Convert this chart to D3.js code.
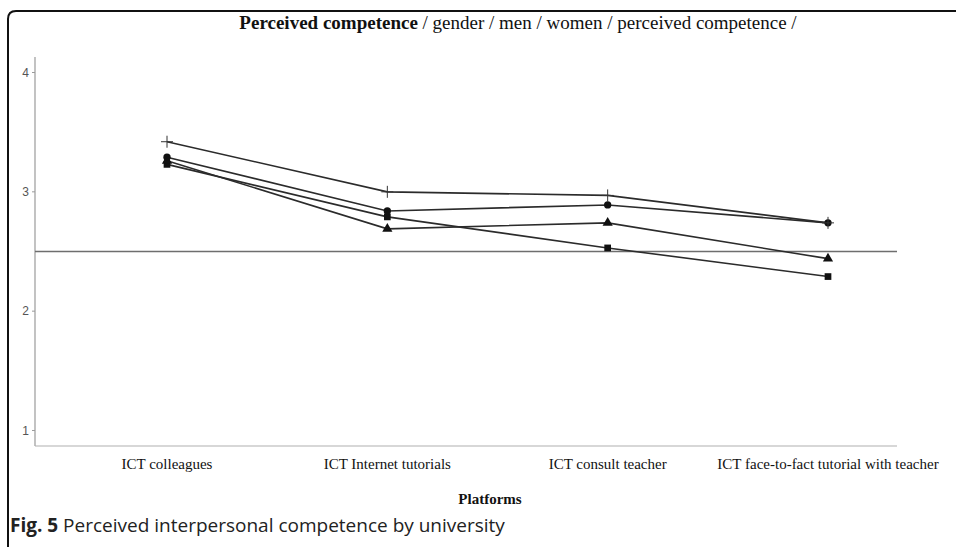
<!DOCTYPE html>
<html>
<head>
<meta charset="utf-8">
<script src="https://cdn.jsdelivr.net/npm/d3@7"></script>
<style>
  body { margin: 0; background: #fff; }
  svg { display: block; }
</style>
</head>
<body>
<svg id="chart" width="956" height="547"></svg>
<script>
// categories along x
const platforms = ["ICT colleagues", "ICT Internet tutorials", "ICT consult teacher", "ICT face-to-fact tutorial with teacher"];

// one array per series (marker shape)
const crossVals = [3.42, 3.00, 2.97, 2.74];
const circleVals = [3.29, 2.84, 2.89, 2.74];
const triangleVals = [3.26, 2.69, 2.74, 2.44];
const squareVals = [3.23, 2.79, 2.53, 2.29];

const yTicks = [1, 2, 3, 4];
const refValue = 2.5;

const series = [
  { name: "square", values: squareVals, symbol: d3.symbolSquare, size: 45 },
  { name: "triangle", values: triangleVals, symbol: d3.symbolTriangle, size: 45 },
  { name: "circle", values: circleVals, symbol: d3.symbolCircle, size: 42 },
  { name: "cross", values: crossVals, symbol: null, size: 0 }
];

const svg = d3.select("#chart");

// outer figure frame (rounded top-left corner)
svg.append("path")
  .attr("d", "M8,547 L8,19 Q8,11 16,11 L956,11")
  .attr("fill", "none")
  .attr("stroke", "#111")
  .attr("stroke-width", 2);

const x = d3.scalePoint().domain(platforms).range([167, 828]);
const y = d3.scaleLinear().domain([0.87, 4.13]).range([446, 57]);

const left = 35, right = 897;

// y axis
svg.append("line")
  .attr("x1", left).attr("x2", left)
  .attr("y1", y(4.13)).attr("y2", y(0.87))
  .attr("stroke", "#9a9a9a").attr("stroke-width", 1.2);

const yt = svg.append("g");
yt.selectAll("line").data(yTicks).join("line")
  .attr("x1", left - 3).attr("x2", left)
  .attr("y1", d => y(d)).attr("y2", d => y(d))
  .attr("stroke", "#9a9a9a");
yt.selectAll("text").data(yTicks).join("text")
  .attr("x", left - 6).attr("y", d => y(d))
  .attr("dy", "0.35em")
  .attr("text-anchor", "end")
  .attr("font-family", "Liberation Sans, Arial, sans-serif")
  .attr("font-size", 12)
  .attr("fill", "#555")
  .text(d => d);

// x axis baseline
svg.append("line")
  .attr("x1", left).attr("x2", right)
  .attr("y1", y(0.87)).attr("y2", y(0.87))
  .attr("stroke", "#b0b0b0").attr("stroke-width", 1.2);

// reference line
svg.append("line")
  .attr("x1", left).attr("x2", right)
  .attr("y1", y(refValue)).attr("y2", y(refValue))
  .attr("stroke", "#6e6e6e").attr("stroke-width", 1.3);

// series lines
const line = d3.line()
  .x((d, i) => x(platforms[i]))
  .y(d => y(d));

svg.append("g").selectAll("path").data(series).join("path")
  .attr("d", s => line(s.values))
  .attr("fill", "none")
  .attr("stroke", "#2b2b2b")
  .attr("stroke-width", 1.6);

// markers
series.forEach(s => {
  const g = svg.append("g");
  if (s.symbol) {
    g.selectAll("path").data(s.values).join("path")
      .attr("transform", (d, i) => `translate(${x(platforms[i])},${y(d)})`)
      .attr("d", d3.symbol().type(s.symbol).size(s.size))
      .attr("fill", "#111");
  } else {
    g.selectAll("path").data(s.values).join("path")
      .attr("transform", (d, i) => `translate(${x(platforms[i])},${y(d)})`)
      .attr("d", "M-6,0H6M0,-6V6")
      .attr("stroke", "#333")
      .attr("stroke-width", 1);
  }
});

// title
const title = svg.append("text")
  .attr("x", 518).attr("y", 29)
  .attr("text-anchor", "middle")
  .attr("font-family", "Liberation Serif, Times New Roman, serif")
  .attr("font-size", 19)
  .attr("fill", "#111");
title.append("tspan").attr("font-weight", "bold").text("Perceived competence");
title.append("tspan").text(" / gender / men / women / perceived competence /");

// category labels
svg.append("g").selectAll("text").data(platforms).join("text")
  .attr("x", d => x(d)).attr("y", 469)
  .attr("text-anchor", "middle")
  .attr("font-family", "Liberation Serif, Times New Roman, serif")
  .attr("font-size", 15)
  .attr("fill", "#111")
  .text(d => d);

// x axis title
svg.append("text")
  .attr("x", 490).attr("y", 504)
  .attr("text-anchor", "middle")
  .attr("font-family", "Liberation Serif, Times New Roman, serif")
  .attr("font-size", 15)
  .attr("font-weight", "bold")
  .attr("fill", "#111")
  .text("Platforms");

// caption
const cap = svg.append("text")
  .attr("x", 10).attr("y", 532)
  .attr("font-family", "Open Sans, Noto Sans, sans-serif")
  .attr("font-size", 19)
  .attr("fill", "#222");
cap.append("tspan").attr("font-weight", "bold").text("Fig. 5");
cap.append("tspan").text(" Perceived interpersonal competence by university");
</script>
</body>
</html>
